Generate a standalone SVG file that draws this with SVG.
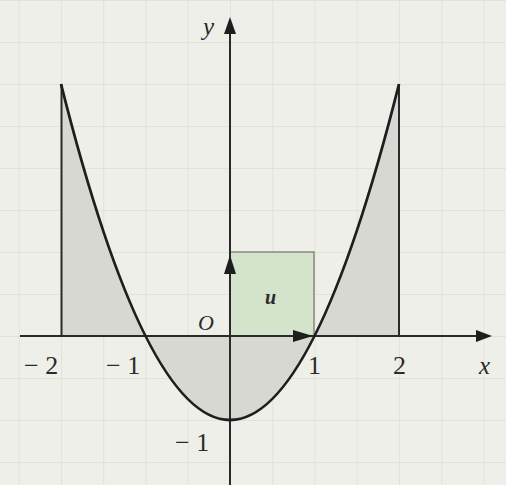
<svg xmlns="http://www.w3.org/2000/svg" width="506" height="485" viewBox="0 0 506 485">
<defs>
<style>
.lbl{font-family:"Liberation Serif","Times New Roman",serif;fill:#2a2a2a;}
.it{font-style:italic;}
.axis{stroke:#2a2a2a;stroke-width:2;fill:none;}
.curve{stroke:#1e1e1e;stroke-width:2.8;fill:none;}
</style>
<pattern id="grid" patternUnits="userSpaceOnUse" x="230" y="336" width="42.25" height="42">
<path d="M0,0 V42 M0,0 H42.25" stroke="#deded7" stroke-width="1.5" fill="none"/>
</pattern>
</defs>
<rect width="506" height="485" fill="#efefe9"/>
<rect width="506" height="485" fill="url(#grid)"/>
<g id="shading">
<path d="M61,336 L61,84 Q230,756 399,84 L399,336 Z" fill="#d8d8d2"/>
</g>
<g id="unit-square">
<rect x="230" y="252" width="84" height="84" fill="#d3e4cb" stroke="#7a7a72" stroke-width="1.3"/>
</g>
<g id="connectors">
<line class="axis" x1="20" y1="336" x2="484" y2="336"/>
<path d="M476,330 L492,336 L476,342 Z" fill="#1e1e1e"/>
<line class="axis" x1="230" y1="485" x2="230" y2="30"/>
<path d="M224,34 L230,17 L236,34 Z" fill="#1e1e1e"/>
<path d="M224,274 L230,255 L236,274 Z" fill="#1e1e1e"/>
<path d="M293,330 L313,336 L293,342 Z" fill="#1e1e1e"/>
<line class="axis" x1="61.5" y1="336" x2="61.5" y2="84"/>
<line class="axis" x1="399" y1="336" x2="399" y2="84"/>
<path class="curve" d="M61,84 Q230,756 399,84"/>
</g>
<g id="labels">
<text class="lbl it" x="203" y="35" font-size="25">y</text>
<text class="lbl it" x="198" y="330" font-size="22">O</text>
<text class="lbl it" x="265" y="304" font-size="20" font-weight="bold">u</text>
<text class="lbl" x="24" y="374" font-size="26">− 2</text>
<text class="lbl" x="106" y="374" font-size="26">− 1</text>
<text class="lbl" x="308" y="374" font-size="26">1</text>
<text class="lbl" x="393" y="374" font-size="26">2</text>
<text class="lbl it" x="479" y="374" font-size="25">x</text>
<text class="lbl" x="175" y="451" font-size="26">− 1</text>
</g>
</svg>
